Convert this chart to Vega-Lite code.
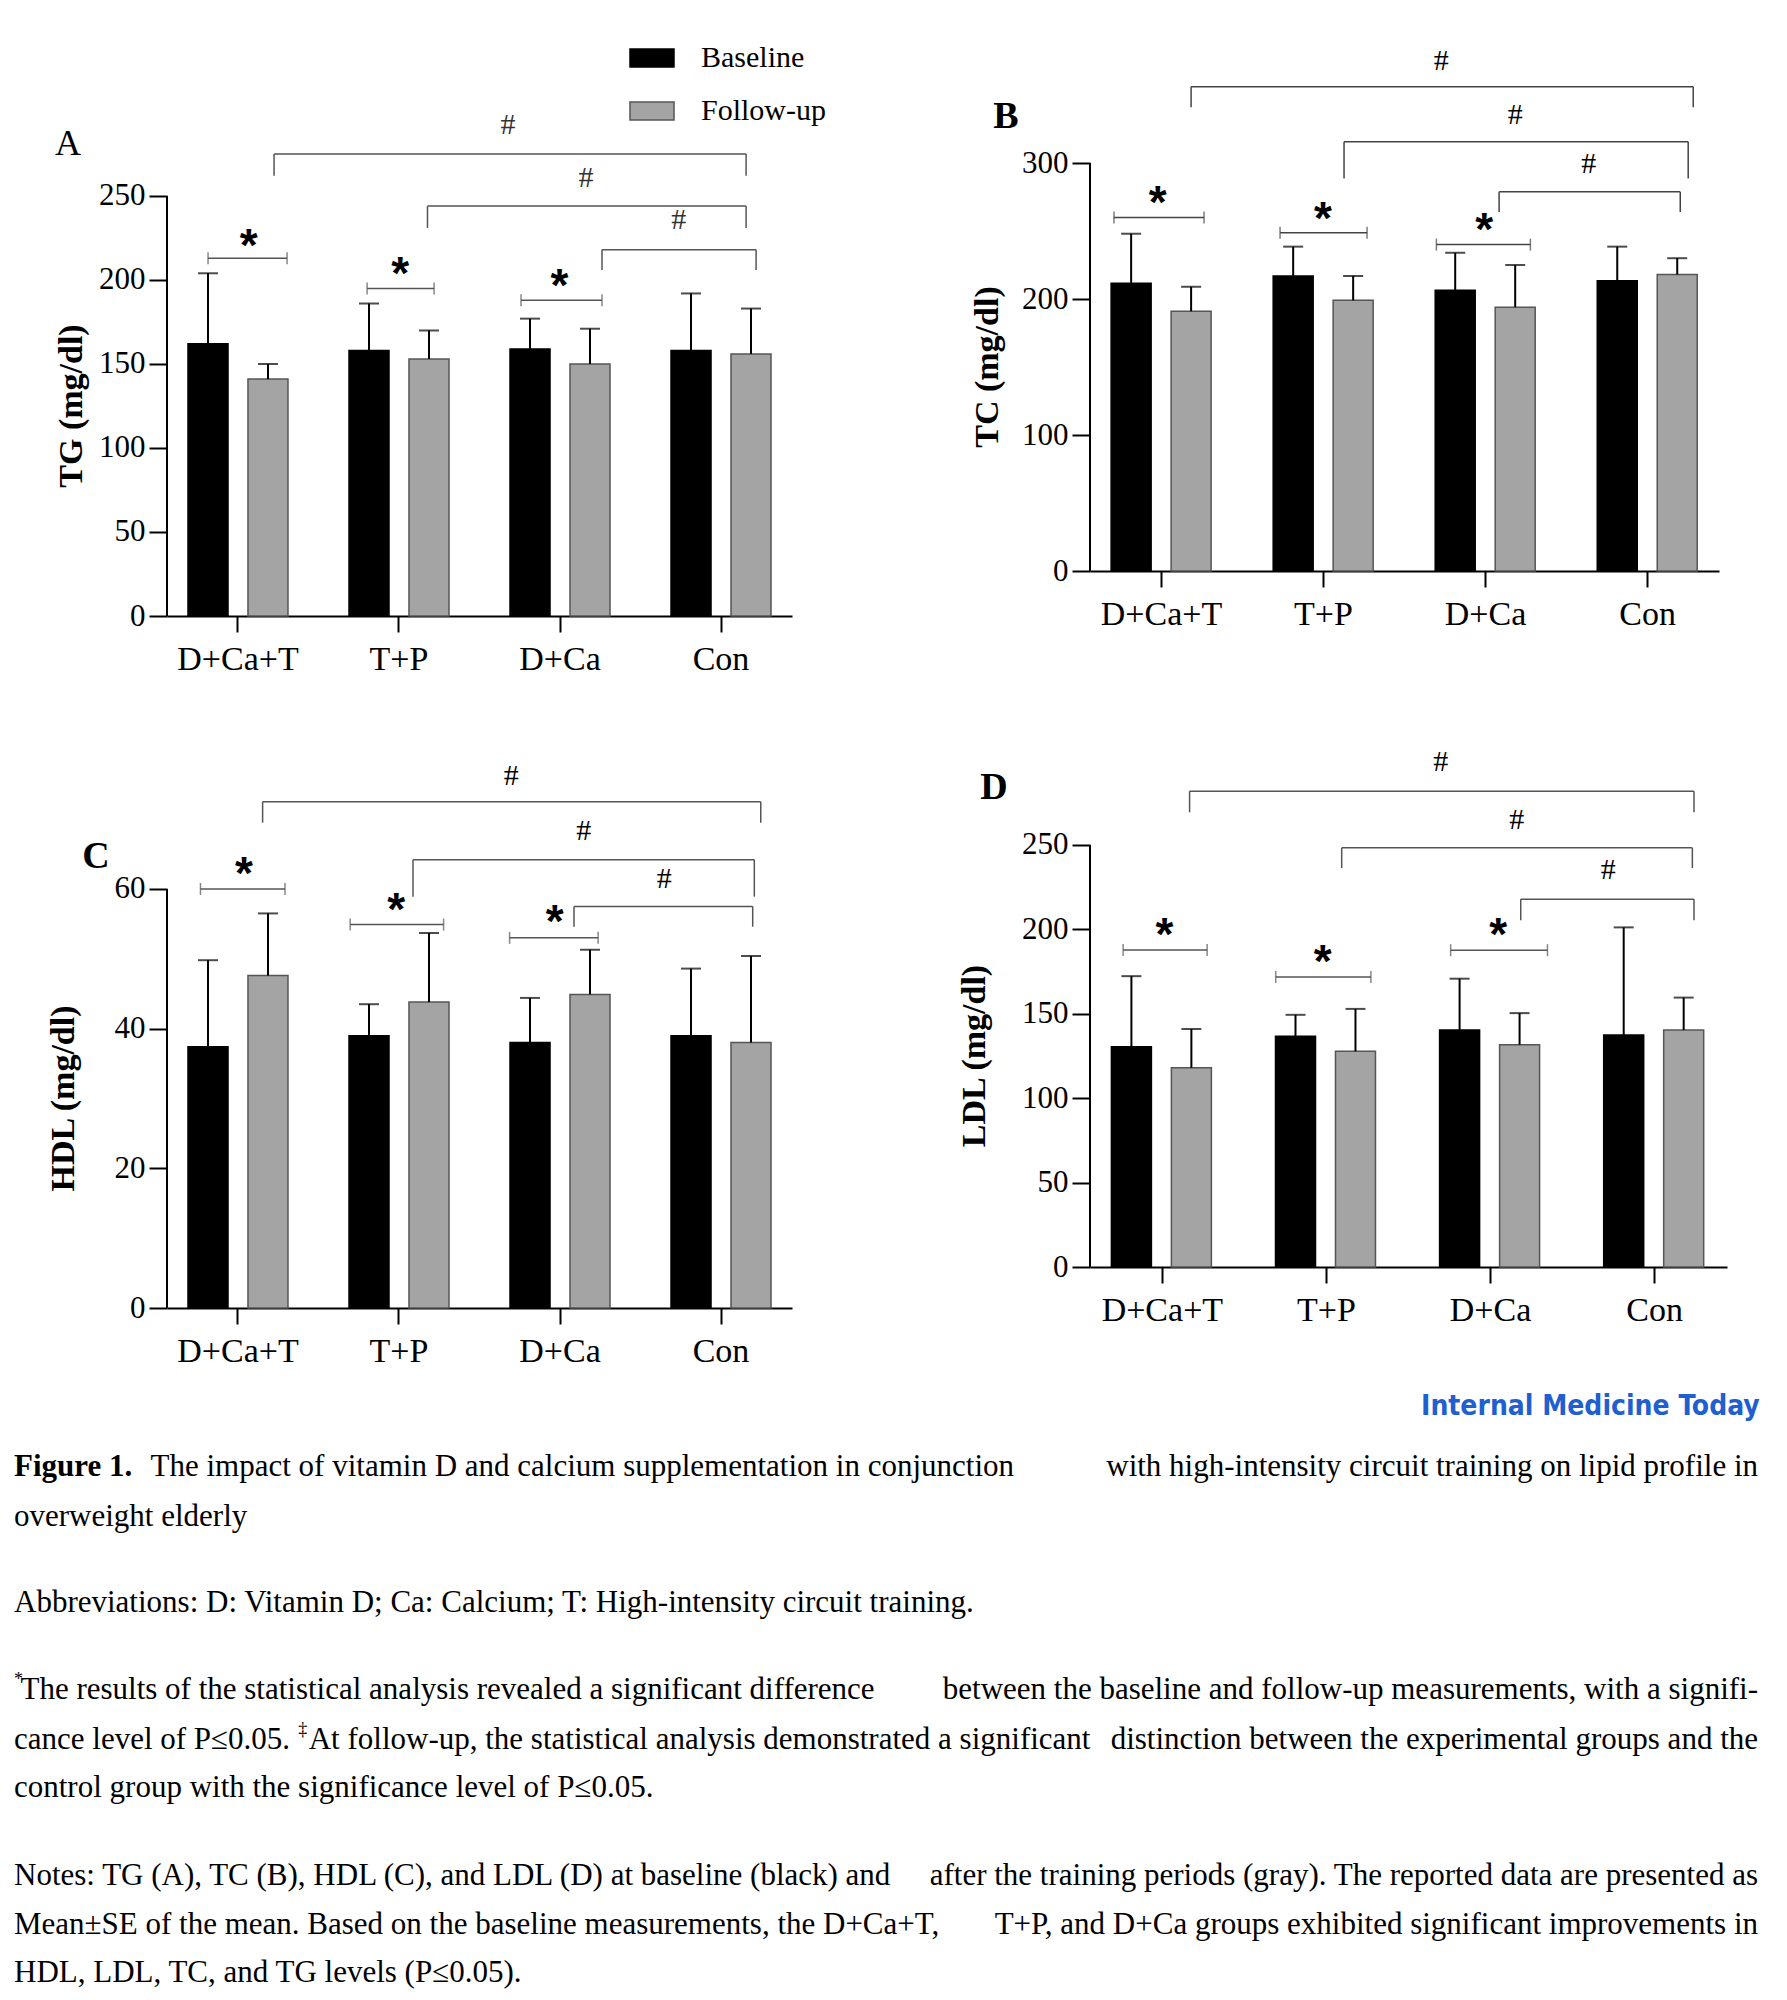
{
"$schema": "https://vega.github.io/schema/vega-lite/v6.json",
"background": "white",
"padding": {"left": 14, "top": 20, "right": 0, "bottom": 0},
"columns": 4,
"bounds": "flush",
"spacing": {"row": 84, "column": 0},
"datasets": {
"bars": [
{"panel":"A","group":"D+Ca+T","series":"Baseline","mean":162,"upper":204},
{"panel":"A","group":"D+Ca+T","series":"Follow-up","mean":141,"upper":150},
{"panel":"A","group":"T+P","series":"Baseline","mean":158,"upper":186},
{"panel":"A","group":"T+P","series":"Follow-up","mean":153,"upper":170},
{"panel":"A","group":"D+Ca","series":"Baseline","mean":159,"upper":177},
{"panel":"A","group":"D+Ca","series":"Follow-up","mean":150,"upper":171},
{"panel":"A","group":"Con","series":"Baseline","mean":158,"upper":192},
{"panel":"A","group":"Con","series":"Follow-up","mean":156,"upper":183},
{"panel":"B","group":"D+Ca+T","series":"Baseline","mean":211.5,"upper":248},
{"panel":"B","group":"D+Ca+T","series":"Follow-up","mean":191,"upper":209},
{"panel":"B","group":"T+P","series":"Baseline","mean":217,"upper":238.5},
{"panel":"B","group":"T+P","series":"Follow-up","mean":199,"upper":217},
{"panel":"B","group":"D+Ca","series":"Baseline","mean":206.5,"upper":234},
{"panel":"B","group":"D+Ca","series":"Follow-up","mean":194,"upper":225},
{"panel":"B","group":"Con","series":"Baseline","mean":213.5,"upper":238.5},
{"panel":"B","group":"Con","series":"Follow-up","mean":218,"upper":230},
{"panel":"C","group":"D+Ca+T","series":"Baseline","mean":37.4,"upper":49.8},
{"panel":"C","group":"D+Ca+T","series":"Follow-up","mean":47.6,"upper":56.5},
{"panel":"C","group":"T+P","series":"Baseline","mean":39.0,"upper":43.5},
{"panel":"C","group":"T+P","series":"Follow-up","mean":43.8,"upper":53.7},
{"panel":"C","group":"D+Ca","series":"Baseline","mean":38.0,"upper":44.4},
{"panel":"C","group":"D+Ca","series":"Follow-up","mean":44.9,"upper":51.3},
{"panel":"C","group":"Con","series":"Baseline","mean":39.0,"upper":48.6},
{"panel":"C","group":"Con","series":"Follow-up","mean":38.0,"upper":50.4},
{"panel":"D","group":"D+Ca+T","series":"Baseline","mean":130.5,"upper":172.3},
{"panel":"D","group":"D+Ca+T","series":"Follow-up","mean":118,"upper":141},
{"panel":"D","group":"T+P","series":"Baseline","mean":136.7,"upper":149.4},
{"panel":"D","group":"T+P","series":"Follow-up","mean":127.8,"upper":152.9},
{"panel":"D","group":"D+Ca","series":"Baseline","mean":140.4,"upper":170.8},
{"panel":"D","group":"D+Ca","series":"Follow-up","mean":131.7,"upper":150.4},
{"panel":"D","group":"Con","series":"Baseline","mean":137.5,"upper":201.2},
{"panel":"D","group":"Con","series":"Follow-up","mean":140.4,"upper":159.6}
],
"hash": [
{"panel":"A","u1":1.224,"u2":4.156,"top":275,"bottom":262,"lu":2.677,"ly":292},
{"panel":"A","u1":2.177,"u2":4.156,"top":244,"bottom":231,"lu":3.162,"ly":261},
{"panel":"A","u1":3.261,"u2":4.218,"top":218,"bottom":206,"lu":3.737,"ly":236},
{"panel":"B","u1":1.183,"u2":4.282,"top":356,"bottom":341,"lu":2.727,"ly":375},
{"panel":"B","u1":2.127,"u2":4.251,"top":315.6,"bottom":288.6,"lu":3.183,"ly":335},
{"panel":"B","u1":3.084,"u2":4.202,"top":278.8,"bottom":264,"lu":3.637,"ly":299},
{"panel":"C","u1":1.153,"u2":4.247,"top":72.5,"bottom":69.5,"lu":2.697,"ly":76.2},
{"panel":"C","u1":2.087,"u2":4.207,"top":64.2,"bottom":58.9,"lu":3.147,"ly":68.3},
{"panel":"C","u1":3.087,"u2":4.197,"top":57.5,"bottom":54.6,"lu":3.647,"ly":61.5},
{"panel":"D","u1":1.166,"u2":4.24,"top":281.9,"bottom":269.4,"lu":2.697,"ly":299},
{"panel":"D","u1":2.093,"u2":4.23,"top":248.3,"bottom":236.3,"lu":3.16,"ly":265},
{"panel":"D","u1":3.184,"u2":4.24,"top":217.9,"bottom":205.4,"lu":3.717,"ly":235}
],
"star": [
{"panel":"A","u1":0.814,"u2":1.305,"y":213,"lu":1.067,"ly":227},
{"panel":"A","u1":1.802,"u2":2.218,"y":195,"lu":2.007,"ly":210},
{"panel":"A","u1":2.758,"u2":3.261,"y":188,"lu":2.997,"ly":203},
{"panel":"B","u1":0.707,"u2":1.263,"y":260,"lu":0.977,"ly":279},
{"panel":"B","u1":1.732,"u2":2.269,"y":248.7,"lu":1.997,"ly":267},
{"panel":"B","u1":2.697,"u2":3.277,"y":240,"lu":2.992,"ly":258.5},
{"panel":"C","u1":0.767,"u2":1.292,"y":60,"lu":1.037,"ly":63.7},
{"panel":"C","u1":1.697,"u2":2.277,"y":54.9,"lu":1.982,"ly":58.6},
{"panel":"C","u1":2.687,"u2":3.237,"y":53.0,"lu":2.967,"ly":56.8},
{"panel":"D","u1":0.761,"u2":1.273,"y":187.8,"lu":1.013,"ly":203},
{"panel":"D","u1":1.691,"u2":2.271,"y":171.8,"lu":1.977,"ly":187},
{"panel":"D","u1":2.757,"u2":3.347,"y":187.7,"lu":3.047,"ly":203.4}
]
},
"concat": [
{"width": 153, "height": 1, "data": {"values": []}, "mark": "text", "encoding": {}},
{
"width": 625, "height": 596,
"resolve": {"scale": {"x": "independent"}},
"layer": [
{"data": {"name": "bars"}, "transform": [{"filter": "datum.panel === 'A'"}],
"encoding": {
"x": {"field": "group", "type": "nominal", "sort": ["D+Ca+T","T+P","D+Ca","Con"], "scale": {"paddingInner": 0.379, "paddingOuter": 0.1304}, "axis": {"title": null, "labelAngle": 0, "labelFontSize": 34, "labelPadding": 10, "tickSize": 16, "tickWidth": 2, "domainWidth": 2, "labelOverlap": false}},
"xOffset": {"field": "series", "type": "nominal", "sort": ["Baseline","Follow-up"], "scale": {"paddingInner": 0.333, "paddingOuter": 0}}
},
"layer": [
{"mark": {"type": "bar", "strokeWidth": 1.5},
"encoding": {
"y": {"field": "mean", "type": "quantitative", "stack": null, "scale": {"domain": [0, 354.76], "nice": false}, "axis": {"title": null, "values": [0,50,100,150,200,250]}},
"fill": {"field": "series", "type": "nominal", "title": null, "scale": {"domain": ["Baseline","Follow-up"], "range": ["#000000","#a4a4a4"]}},
"stroke": {"field": "series", "type": "nominal", "title": null, "scale": {"domain": ["Baseline","Follow-up"], "range": ["#000000","#555555"]}}
}},
{"mark": {"type": "rule", "strokeWidth": 2, "color": "#000000"}, "encoding": {"y": {"field": "mean", "type": "quantitative", "axis": {"title": null}}, "y2": {"field": "upper"}}},
{"mark": {"type": "tick", "thickness": 2, "size": 20, "color": "#000000"}, "encoding": {"y": {"field": "upper", "type": "quantitative", "axis": {"title": null}}}}
]},
{"layer": [
{"data": {"values": [{}]}, "mark": {"type": "rule", "strokeWidth": 2, "color": "#000000"}, "encoding": {"x": {"datum": 0.5591, "type": "quantitative", "scale": {"domain": [0.5591, 4.4411], "nice": false, "zero": false}, "axis": null}, "y": {"datum": 0, "type": "quantitative", "axis": {"title": null}}, "y2": {"datum": 250}}},
{"data": {"name": "hash"}, "transform": [{"filter": "datum.panel === 'A'"}], "layer": [
{"mark": {"type": "rule", "strokeWidth": 1.5, "color": "#555555"}, "encoding": {"x": {"field": "u1", "type": "quantitative", "scale": {"domain": [0.5591, 4.4411], "nice": false, "zero": false}, "axis": null}, "x2": {"field": "u2"}, "y": {"field": "top", "type": "quantitative", "axis": {"title": null}}}},
{"mark": {"type": "rule", "strokeWidth": 1.5, "color": "#555555"}, "encoding": {"x": {"field": "u1", "type": "quantitative", "axis": null}, "y": {"field": "bottom", "type": "quantitative", "axis": {"title": null}}, "y2": {"field": "top"}}},
{"mark": {"type": "rule", "strokeWidth": 1.5, "color": "#555555"}, "encoding": {"x": {"field": "u2", "type": "quantitative", "axis": null}, "y": {"field": "bottom", "type": "quantitative", "axis": {"title": null}}, "y2": {"field": "top"}}},
{"mark": {"type": "text", "text": "#", "font": "Liberation Serif", "fontSize": 30, "baseline": "middle", "align": "center", "color": "#333333"}, "encoding": {"x": {"field": "lu", "type": "quantitative", "axis": null}, "y": {"field": "ly", "type": "quantitative", "axis": {"title": null}}}}
]},
{"data": {"name": "star"}, "transform": [{"filter": "datum.panel === 'A'"}], "layer": [
{"mark": {"type": "rule", "strokeWidth": 1.5, "color": "#555555"}, "encoding": {"x": {"field": "u1", "type": "quantitative", "axis": null}, "x2": {"field": "u2"}, "y": {"field": "y", "type": "quantitative", "axis": {"title": null}}}},
{"mark": {"type": "tick", "orient": "vertical", "size": 12, "thickness": 1.5, "color": "#555555"}, "encoding": {"x": {"field": "u1", "type": "quantitative", "axis": null}, "y": {"field": "y", "type": "quantitative", "axis": {"title": null}}}},
{"mark": {"type": "tick", "orient": "vertical", "size": 12, "thickness": 1.5, "color": "#555555"}, "encoding": {"x": {"field": "u2", "type": "quantitative", "axis": null}, "y": {"field": "y", "type": "quantitative", "axis": {"title": null}}}},
{"mark": {"type": "text", "text": "*", "font": "Liberation Sans", "fontWeight": "bold", "fontSize": 46, "baseline": "middle", "align": "center", "dy": 12, "color": "#000000"}, "encoding": {"x": {"field": "lu", "type": "quantitative", "axis": null}, "y": {"field": "ly", "type": "quantitative", "axis": {"title": null}}}}
]},
{"data": {"values": [{}]}, "mark": {"type": "text", "text": "A", "font": "Liberation Serif", "fontSize": 36, "baseline": "middle", "align": "center", "color": "#000000"}, "encoding": {"x": {"datum": -0.056, "type": "quantitative", "axis": null}, "y": {"datum": 281, "type": "quantitative", "axis": {"title": null}}}},
{"data": {"values": [{}]}, "mark": {"type": "text", "text": "TG (mg/dl)", "angle": 270, "font": "Liberation Serif", "fontSize": 34, "fontWeight": "bold", "baseline": "middle", "align": "center", "color": "#000000"}, "encoding": {"x": {"datum": -0.031, "type": "quantitative", "axis": null}, "y": {"datum": 125, "type": "quantitative", "axis": {"title": null}}}}
]}
]
},
{"width": 298, "height": 1, "data": {"values": []}, "mark": "text", "encoding": {}},
{
"width": 629, "height": 551,
"resolve": {"scale": {"x": "independent"}},
"layer": [
{"data": {"name": "bars"}, "transform": [{"filter": "datum.panel === 'B'"}],
"encoding": {
"x": {"field": "group", "type": "nominal", "sort": ["D+Ca+T","T+P","D+Ca","Con"], "scale": {"paddingInner": 0.379, "paddingOuter": 0.1304}, "axis": {"title": null, "labelAngle": 0, "labelFontSize": 34, "labelPadding": 10, "tickSize": 16, "tickWidth": 2, "domainWidth": 2, "labelOverlap": false}},
"xOffset": {"field": "series", "type": "nominal", "sort": ["Baseline","Follow-up"], "scale": {"paddingInner": 0.333, "paddingOuter": 0}}
},
"layer": [
{"mark": {"type": "bar", "strokeWidth": 1.5},
"encoding": {
"y": {"field": "mean", "type": "quantitative", "stack": null, "scale": {"domain": [0, 405.15], "nice": false}, "axis": {"title": null, "values": [0,100,200,300]}},
"fill": {"field": "series", "type": "nominal", "title": null, "scale": {"domain": ["Baseline","Follow-up"], "range": ["#000000","#a4a4a4"]}},
"stroke": {"field": "series", "type": "nominal", "title": null, "scale": {"domain": ["Baseline","Follow-up"], "range": ["#000000","#555555"]}}
}},
{"mark": {"type": "rule", "strokeWidth": 2, "color": "#000000"}, "encoding": {"y": {"field": "mean", "type": "quantitative", "axis": {"title": null}}, "y2": {"field": "upper"}}},
{"mark": {"type": "tick", "thickness": 2, "size": 20, "color": "#000000"}, "encoding": {"y": {"field": "upper", "type": "quantitative", "axis": {"title": null}}}}
]},
{"layer": [
{"data": {"values": [{}]}, "mark": {"type": "rule", "strokeWidth": 2, "color": "#000000"}, "encoding": {"x": {"datum": 0.5591, "type": "quantitative", "scale": {"domain": [0.5591, 4.4411], "nice": false, "zero": false}, "axis": null}, "y": {"datum": 0, "type": "quantitative", "axis": {"title": null}}, "y2": {"datum": 300}}},
{"data": {"name": "hash"}, "transform": [{"filter": "datum.panel === 'B'"}], "layer": [
{"mark": {"type": "rule", "strokeWidth": 1.5, "color": "#444444"}, "encoding": {"x": {"field": "u1", "type": "quantitative", "scale": {"domain": [0.5591, 4.4411], "nice": false, "zero": false}, "axis": null}, "x2": {"field": "u2"}, "y": {"field": "top", "type": "quantitative", "axis": {"title": null}}}},
{"mark": {"type": "rule", "strokeWidth": 1.5, "color": "#444444"}, "encoding": {"x": {"field": "u1", "type": "quantitative", "axis": null}, "y": {"field": "bottom", "type": "quantitative", "axis": {"title": null}}, "y2": {"field": "top"}}},
{"mark": {"type": "rule", "strokeWidth": 1.5, "color": "#444444"}, "encoding": {"x": {"field": "u2", "type": "quantitative", "axis": null}, "y": {"field": "bottom", "type": "quantitative", "axis": {"title": null}}, "y2": {"field": "top"}}},
{"mark": {"type": "text", "text": "#", "font": "Liberation Serif", "fontSize": 30, "baseline": "middle", "align": "center", "color": "#000000"}, "encoding": {"x": {"field": "lu", "type": "quantitative", "axis": null}, "y": {"field": "ly", "type": "quantitative", "axis": {"title": null}}}}
]},
{"data": {"name": "star"}, "transform": [{"filter": "datum.panel === 'B'"}], "layer": [
{"mark": {"type": "rule", "strokeWidth": 1.5, "color": "#444444"}, "encoding": {"x": {"field": "u1", "type": "quantitative", "axis": null}, "x2": {"field": "u2"}, "y": {"field": "y", "type": "quantitative", "axis": {"title": null}}}},
{"mark": {"type": "tick", "orient": "vertical", "size": 12, "thickness": 1.5, "color": "#444444"}, "encoding": {"x": {"field": "u1", "type": "quantitative", "axis": null}, "y": {"field": "y", "type": "quantitative", "axis": {"title": null}}}},
{"mark": {"type": "tick", "orient": "vertical", "size": 12, "thickness": 1.5, "color": "#444444"}, "encoding": {"x": {"field": "u2", "type": "quantitative", "axis": null}, "y": {"field": "y", "type": "quantitative", "axis": {"title": null}}}},
{"mark": {"type": "text", "text": "*", "font": "Liberation Sans", "fontWeight": "bold", "fontSize": 46, "baseline": "middle", "align": "center", "dy": 12, "color": "#000000"}, "encoding": {"x": {"field": "lu", "type": "quantitative", "axis": null}, "y": {"field": "ly", "type": "quantitative", "axis": {"title": null}}}}
]},
{"data": {"values": [{}]}, "mark": {"type": "text", "text": "B", "font": "Liberation Serif", "fontSize": 38, "fontWeight": "bold", "baseline": "middle", "align": "center", "color": "#000000"}, "encoding": {"x": {"datum": 0.0406, "type": "quantitative", "axis": null}, "y": {"datum": 333.8, "type": "quantitative", "axis": {"title": null}}}},
{"data": {"values": [{}]}, "mark": {"type": "text", "text": "TC (mg/dl)", "angle": 270, "font": "Liberation Serif", "fontSize": 34, "fontWeight": "bold", "baseline": "middle", "align": "center", "color": "#000000"}, "encoding": {"x": {"datum": -0.0705, "type": "quantitative", "axis": null}, "y": {"datum": 150, "type": "quantitative", "axis": {"title": null}}}}
]}
]
},
{"width": 153, "height": 1, "data": {"values": []}, "mark": "text", "encoding": {}},
{
"width": 625, "height": 608,
"resolve": {"scale": {"x": "independent"}},
"layer": [
{"data": {"name": "bars"}, "transform": [{"filter": "datum.panel === 'C'"}],
"encoding": {
"x": {"field": "group", "type": "nominal", "sort": ["D+Ca+T","T+P","D+Ca","Con"], "scale": {"paddingInner": 0.379, "paddingOuter": 0.1304}, "axis": {"title": null, "labelAngle": 0, "labelFontSize": 34, "labelPadding": 10, "tickSize": 16, "tickWidth": 2, "domainWidth": 2, "labelOverlap": false}},
"xOffset": {"field": "series", "type": "nominal", "sort": ["Baseline","Follow-up"], "scale": {"paddingInner": 0.333, "paddingOuter": 0}}
},
"layer": [
{"mark": {"type": "bar", "strokeWidth": 1.5},
"encoding": {
"y": {"field": "mean", "type": "quantitative", "stack": null, "scale": {"domain": [0, 87.06], "nice": false}, "axis": {"title": null, "values": [0,20,40,60]}},
"fill": {"field": "series", "type": "nominal", "title": null, "scale": {"domain": ["Baseline","Follow-up"], "range": ["#000000","#a4a4a4"]}},
"stroke": {"field": "series", "type": "nominal", "title": null, "scale": {"domain": ["Baseline","Follow-up"], "range": ["#000000","#555555"]}}
}},
{"mark": {"type": "rule", "strokeWidth": 2, "color": "#000000"}, "encoding": {"y": {"field": "mean", "type": "quantitative", "axis": {"title": null}}, "y2": {"field": "upper"}}},
{"mark": {"type": "tick", "thickness": 2, "size": 20, "color": "#000000"}, "encoding": {"y": {"field": "upper", "type": "quantitative", "axis": {"title": null}}}}
]},
{"layer": [
{"data": {"values": [{}]}, "mark": {"type": "rule", "strokeWidth": 2, "color": "#000000"}, "encoding": {"x": {"datum": 0.5591, "type": "quantitative", "scale": {"domain": [0.5591, 4.4411], "nice": false, "zero": false}, "axis": null}, "y": {"datum": 0, "type": "quantitative", "axis": {"title": null}}, "y2": {"datum": 60}}},
{"data": {"name": "hash"}, "transform": [{"filter": "datum.panel === 'C'"}], "layer": [
{"mark": {"type": "rule", "strokeWidth": 1.5, "color": "#555555"}, "encoding": {"x": {"field": "u1", "type": "quantitative", "scale": {"domain": [0.5591, 4.4411], "nice": false, "zero": false}, "axis": null}, "x2": {"field": "u2"}, "y": {"field": "top", "type": "quantitative", "axis": {"title": null}}}},
{"mark": {"type": "rule", "strokeWidth": 1.5, "color": "#555555"}, "encoding": {"x": {"field": "u1", "type": "quantitative", "axis": null}, "y": {"field": "bottom", "type": "quantitative", "axis": {"title": null}}, "y2": {"field": "top"}}},
{"mark": {"type": "rule", "strokeWidth": 1.5, "color": "#555555"}, "encoding": {"x": {"field": "u2", "type": "quantitative", "axis": null}, "y": {"field": "bottom", "type": "quantitative", "axis": {"title": null}}, "y2": {"field": "top"}}},
{"mark": {"type": "text", "text": "#", "font": "Liberation Serif", "fontSize": 30, "baseline": "middle", "align": "center", "color": "#000000"}, "encoding": {"x": {"field": "lu", "type": "quantitative", "axis": null}, "y": {"field": "ly", "type": "quantitative", "axis": {"title": null}}}}
]},
{"data": {"name": "star"}, "transform": [{"filter": "datum.panel === 'C'"}], "layer": [
{"mark": {"type": "rule", "strokeWidth": 1.5, "color": "#555555"}, "encoding": {"x": {"field": "u1", "type": "quantitative", "axis": null}, "x2": {"field": "u2"}, "y": {"field": "y", "type": "quantitative", "axis": {"title": null}}}},
{"mark": {"type": "tick", "orient": "vertical", "size": 12, "thickness": 1.5, "color": "#555555"}, "encoding": {"x": {"field": "u1", "type": "quantitative", "axis": null}, "y": {"field": "y", "type": "quantitative", "axis": {"title": null}}}},
{"mark": {"type": "tick", "orient": "vertical", "size": 12, "thickness": 1.5, "color": "#555555"}, "encoding": {"x": {"field": "u2", "type": "quantitative", "axis": null}, "y": {"field": "y", "type": "quantitative", "axis": {"title": null}}}},
{"mark": {"type": "text", "text": "*", "font": "Liberation Sans", "fontWeight": "bold", "fontSize": 46, "baseline": "middle", "align": "center", "dy": 12, "color": "#000000"}, "encoding": {"x": {"field": "lu", "type": "quantitative", "axis": null}, "y": {"field": "ly", "type": "quantitative", "axis": {"title": null}}}}
]},
{"data": {"values": [{}]}, "mark": {"type": "text", "text": "C", "font": "Liberation Serif", "fontSize": 38, "fontWeight": "bold", "baseline": "middle", "align": "center", "color": "#000000"}, "encoding": {"x": {"datum": 0.118, "type": "quantitative", "axis": null}, "y": {"datum": 64.6, "type": "quantitative", "axis": {"title": null}}}},
{"data": {"values": [{}]}, "mark": {"type": "text", "text": "HDL (mg/dl)", "angle": 270, "font": "Liberation Serif", "fontSize": 34, "fontWeight": "bold", "baseline": "middle", "align": "center", "color": "#000000"}, "encoding": {"x": {"datum": -0.0806, "type": "quantitative", "axis": null}, "y": {"datum": 30, "type": "quantitative", "axis": {"title": null}}}}
]}
]
},
{"width": 298, "height": 1, "data": {"values": []}, "mark": "text", "encoding": {}},
{
"width": 637, "height": 567,
"resolve": {"scale": {"x": "independent"}},
"layer": [
{"data": {"name": "bars"}, "transform": [{"filter": "datum.panel === 'D'"}],
"encoding": {
"x": {"field": "group", "type": "nominal", "sort": ["D+Ca+T","T+P","D+Ca","Con"], "scale": {"paddingInner": 0.379, "paddingOuter": 0.1304}, "axis": {"title": null, "labelAngle": 0, "labelFontSize": 34, "labelPadding": 10, "tickSize": 16, "tickWidth": 2, "domainWidth": 2, "labelOverlap": false}},
"xOffset": {"field": "series", "type": "nominal", "sort": ["Baseline","Follow-up"], "scale": {"paddingInner": 0.333, "paddingOuter": 0}}
},
"layer": [
{"mark": {"type": "bar", "strokeWidth": 1.5},
"encoding": {
"y": {"field": "mean", "type": "quantitative", "stack": null, "scale": {"domain": [0, 335.9], "nice": false}, "axis": {"title": null, "values": [0,50,100,150,200,250]}},
"fill": {"field": "series", "type": "nominal", "title": null, "scale": {"domain": ["Baseline","Follow-up"], "range": ["#000000","#a4a4a4"]}},
"stroke": {"field": "series", "type": "nominal", "title": null, "scale": {"domain": ["Baseline","Follow-up"], "range": ["#000000","#555555"]}}
}},
{"mark": {"type": "rule", "strokeWidth": 2, "color": "#000000"}, "encoding": {"y": {"field": "mean", "type": "quantitative", "axis": {"title": null}}, "y2": {"field": "upper"}}},
{"mark": {"type": "tick", "thickness": 2, "size": 20, "color": "#000000"}, "encoding": {"y": {"field": "upper", "type": "quantitative", "axis": {"title": null}}}}
]},
{"layer": [
{"data": {"values": [{}]}, "mark": {"type": "rule", "strokeWidth": 2, "color": "#000000"}, "encoding": {"x": {"datum": 0.5591, "type": "quantitative", "scale": {"domain": [0.5591, 4.4411], "nice": false, "zero": false}, "axis": null}, "y": {"datum": 0, "type": "quantitative", "axis": {"title": null}}, "y2": {"datum": 250}}},
{"data": {"name": "hash"}, "transform": [{"filter": "datum.panel === 'D'"}], "layer": [
{"mark": {"type": "rule", "strokeWidth": 1.5, "color": "#555555"}, "encoding": {"x": {"field": "u1", "type": "quantitative", "scale": {"domain": [0.5591, 4.4411], "nice": false, "zero": false}, "axis": null}, "x2": {"field": "u2"}, "y": {"field": "top", "type": "quantitative", "axis": {"title": null}}}},
{"mark": {"type": "rule", "strokeWidth": 1.5, "color": "#555555"}, "encoding": {"x": {"field": "u1", "type": "quantitative", "axis": null}, "y": {"field": "bottom", "type": "quantitative", "axis": {"title": null}}, "y2": {"field": "top"}}},
{"mark": {"type": "rule", "strokeWidth": 1.5, "color": "#555555"}, "encoding": {"x": {"field": "u2", "type": "quantitative", "axis": null}, "y": {"field": "bottom", "type": "quantitative", "axis": {"title": null}}, "y2": {"field": "top"}}},
{"mark": {"type": "text", "text": "#", "font": "Liberation Serif", "fontSize": 30, "baseline": "middle", "align": "center", "color": "#000000"}, "encoding": {"x": {"field": "lu", "type": "quantitative", "axis": null}, "y": {"field": "ly", "type": "quantitative", "axis": {"title": null}}}}
]},
{"data": {"name": "star"}, "transform": [{"filter": "datum.panel === 'D'"}], "layer": [
{"mark": {"type": "rule", "strokeWidth": 1.5, "color": "#555555"}, "encoding": {"x": {"field": "u1", "type": "quantitative", "axis": null}, "x2": {"field": "u2"}, "y": {"field": "y", "type": "quantitative", "axis": {"title": null}}}},
{"mark": {"type": "tick", "orient": "vertical", "size": 12, "thickness": 1.5, "color": "#555555"}, "encoding": {"x": {"field": "u1", "type": "quantitative", "axis": null}, "y": {"field": "y", "type": "quantitative", "axis": {"title": null}}}},
{"mark": {"type": "tick", "orient": "vertical", "size": 12, "thickness": 1.5, "color": "#555555"}, "encoding": {"x": {"field": "u2", "type": "quantitative", "axis": null}, "y": {"field": "y", "type": "quantitative", "axis": {"title": null}}}},
{"mark": {"type": "text", "text": "*", "font": "Liberation Sans", "fontWeight": "bold", "fontSize": 46, "baseline": "middle", "align": "center", "dy": 12, "color": "#000000"}, "encoding": {"x": {"field": "lu", "type": "quantitative", "axis": null}, "y": {"field": "ly", "type": "quantitative", "axis": {"title": null}}}}
]},
{"data": {"values": [{}]}, "mark": {"type": "text", "text": "D", "font": "Liberation Serif", "fontSize": 38, "fontWeight": "bold", "baseline": "middle", "align": "center", "color": "#000000"}, "encoding": {"x": {"datum": -0.026, "type": "quantitative", "axis": null}, "y": {"datum": 283.8, "type": "quantitative", "axis": {"title": null}}}},
{"data": {"values": [{}]}, "mark": {"type": "text", "text": "LDL (mg/dl)", "angle": 270, "font": "Liberation Serif", "fontSize": 34, "fontWeight": "bold", "baseline": "middle", "align": "center", "color": "#000000"}, "encoding": {"x": {"datum": -0.142, "type": "quantitative", "axis": null}, "y": {"datum": 125, "type": "quantitative", "axis": {"title": null}}}}
]}
]
},
{
"width": 153, "height": 600,
"layer": [
{"data": {"values": [
{"line": 1.53, "pos": 0.0783, "text": "The impact of vitamin D and calcium supplementation in conjunction"},
{"line": 2.55, "pos": 0, "text": "overweight elderly"},
{"line": 4.3, "pos": 0, "text": "Abbreviations: D: Vitamin D; Ca: Calcium; T: High-intensity circuit training."},
{"line": 6.06, "pos": 0.0037, "text": "The results of the statistical analysis revealed a significant difference"},
{"line": 7.07, "pos": 0, "text": "cance level of P≤0.05."},
{"line": 7.07, "pos": 0.169, "text": "At follow-up, the statistical analysis demonstrated a significant"},
{"line": 8.05, "pos": 0, "text": "control group with the significance level of P≤0.05."},
{"line": 9.84, "pos": 0, "text": "Notes: TG (A), TC (B), HDL (C), and LDL (D) at baseline (black) and"},
{"line": 10.84, "pos": 0, "text": "Mean±SE of the mean. Based on the baseline measurements, the D+Ca+T,"},
{"line": 11.82, "pos": 0, "text": "HDL, LDL, TC, and TG levels (P≤0.05)."}
]},
"mark": {"type": "text", "align": "left", "baseline": "middle", "font": "Liberation Serif", "fontSize": 31, "color": "#000000"},
"encoding": {"x": {"field": "pos", "type": "quantitative", "scale": {"domain": [0, 0.087729], "nice": false, "zero": false}, "axis": null}, "y": {"field": "line", "type": "quantitative", "scale": {"domain": [0, 12.2], "reverse": true, "nice": false, "zero": false}, "axis": null}, "text": {"field": "text"}}},
{"data": {"values": [
{"line": 1.53, "text": "with high-intensity circuit training on lipid profile in"},
{"line": 6.06, "text": "between the baseline and follow-up measurements, with a signifi-"},
{"line": 7.07, "text": "distinction between the experimental groups and the"},
{"line": 9.84, "text": "after the training periods (gray). The reported data are presented as"},
{"line": 10.84, "text": "T+P, and D+Ca groups exhibited significant improvements in"}
]},
"mark": {"type": "text", "align": "right", "baseline": "middle", "font": "Liberation Serif", "fontSize": 31, "color": "#000000"},
"encoding": {"x": {"datum": 1, "type": "quantitative", "axis": null}, "y": {"field": "line", "type": "quantitative", "axis": null}, "text": {"field": "text"}}},
{"data": {"values": [{"line": 1.53, "text": "Figure 1."}]},
"mark": {"type": "text", "align": "left", "baseline": "middle", "font": "Liberation Serif", "fontSize": 31, "fontWeight": "bold", "color": "#000000"},
"encoding": {"x": {"datum": 0, "type": "quantitative", "axis": null}, "y": {"field": "line", "type": "quantitative", "axis": null}, "text": {"field": "text"}}},
{"data": {"values": [{"line": 5.86, "pos": 0, "text": "*"}, {"line": 6.87, "pos": 0.163, "text": "‡"}]},
"mark": {"type": "text", "align": "left", "baseline": "middle", "font": "Liberation Serif", "fontSize": 18, "color": "#000000"},
"encoding": {"x": {"field": "pos", "type": "quantitative", "axis": null}, "y": {"field": "line", "type": "quantitative", "axis": null}, "text": {"field": "text"}}},
{"data": {"values": [{"line": 0.3, "text": "Internal Medicine Today"}]},
"mark": {"type": "text", "align": "right", "baseline": "middle", "font": "Liberation Sans Narrow, DejaVu Sans Condensed, sans-serif", "fontSize": 28, "fontWeight": "bold", "color": "#1f5fd0"},
"encoding": {"x": {"datum": 1.001, "type": "quantitative", "axis": null}, "y": {"field": "line", "type": "quantitative", "axis": null}, "text": {"field": "text"}}}
]
}
],
"config": {
"view": {"stroke": null},
"axis": {"labelFont": "Liberation Serif", "labelColor": "#000000", "tickColor": "#000000", "domainColor": "#000000"},
"axisY": {"domain": false, "grid": false, "tickSize": 18, "tickWidth": 2, "labelFontSize": 31, "labelPadding": 4},
"legend": {"orient": "none", "legendX": 615, "legendY": 15, "padding": 0, "symbolType": "M-1,-0.41H1V0.41H-1Z", "symbolSize": 1936, "symbolStrokeWidth": 1.5, "symbolOpacity": 1, "labelFont": "Liberation Serif", "labelFontSize": 30, "labelColor": "#000000", "labelOffset": 26, "rowPadding": 15, "labelLimit": 400}
}
}
